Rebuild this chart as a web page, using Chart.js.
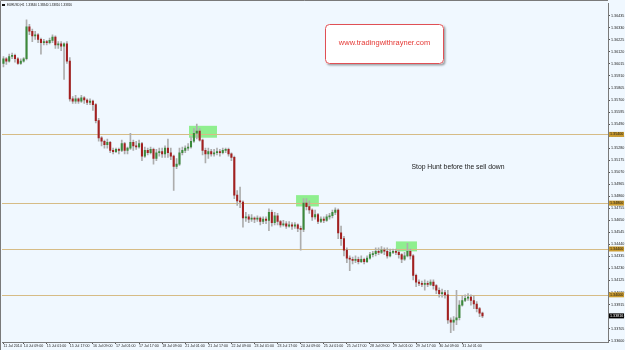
<!DOCTYPE html>
<html lang="en">
<head>
<meta charset="UTF-8">
<title>EURUSD,H1</title>
<script src="https://cdn.jsdelivr.net/npm/chart.js"></script>
<style>
  html, body { margin: 0; padding: 0; background: #f0f8ff; }
  #caixa { width: 625px; height: 350px; }
</style>
</head>
<body>
<div id="caixa"><canvas id="grafico" width="625" height="350"></canvas></div>
<script>
// EURUSD candles, 2 hours each, 11 Jul 18:00 -> 31 Jul 2014
const open = [1.3602,1.3606,1.3604,1.3608,1.3609,1.3606,1.3602,1.3604,1.3606,1.3634,
  1.3630,1.3626,1.3627,1.3623,1.3620,1.3621,1.3620,1.3622,1.3625,1.3618,
  1.3619,1.3617,1.3619,1.3604,1.3571,1.3569,1.3571,1.3569,1.3572,1.3570,
  1.3568,1.3569,1.3566,1.3552,1.3537,1.3534,1.3531,1.3533,1.3526,1.3525,
  1.3527,1.3526,1.3532,1.3526,1.3528,1.3533,1.3530,1.3529,1.3532,1.3521,
  1.3526,1.3524,1.3527,1.3519,1.3524,1.3525,1.3523,1.3528,1.3524,1.3521,
  1.3512,1.3514,1.3524,1.3526,1.3528,1.3529,1.3534,1.3541,1.3543,1.3535,
  1.3526,1.3523,1.3525,1.3523,1.3524,1.3525,1.3524,1.3526,1.3527,1.3523,
  1.3520,1.3487,1.3482,1.3481,1.3467,1.3468,1.3466,1.3467,1.3466,1.3467,
  1.3464,1.3466,1.3465,1.3472,1.3463,1.3469,1.3464,1.3461,1.3462,1.3460,
  1.3461,1.3460,1.3461,1.3458,1.3457,1.3480,1.3477,1.3474,1.3468,1.3470,
  1.3464,1.3466,1.3465,1.3468,1.3469,1.3472,1.3474,1.3454,1.3449,1.3439,
  1.3432,1.3431,1.3430,1.3431,1.3429,1.3431,1.3429,1.3432,1.3435,1.3436,
  1.3438,1.3437,1.3439,1.3438,1.3434,1.3437,1.3438,1.3437,1.3435,1.3431,
  1.3434,1.3438,1.3434,1.3417,1.3411,1.3410,1.3409,1.3410,1.3409,1.3411,
  1.3408,1.3404,1.3401,1.3402,1.3400,1.3378,1.3376,1.3378,1.3380,1.3391,
  1.3395,1.3397,1.3398,1.3395,1.3392,1.3388,1.3384];
const high = [1.3608,1.3607,1.3610,1.3611,1.3610,1.3607,1.3606,1.3607,1.3640,1.3636,
  1.3632,1.3630,1.3628,1.3624,1.3623,1.3622,1.3624,1.3627,1.3626,1.3621,
  1.3621,1.3620,1.3621,1.3607,1.3573,1.3574,1.3572,1.3574,1.3573,1.3571,
  1.3571,1.3570,1.3567,1.3554,1.3538,1.3535,1.3536,1.3534,1.3528,1.3528,
  1.3528,1.3535,1.3533,1.3529,1.3541,1.3535,1.3534,1.3535,1.3533,1.3529,
  1.3528,1.3529,1.3528,1.3527,1.3528,1.3528,1.3530,1.3536,1.3528,1.3522,
  1.3519,1.3528,1.3529,1.3530,1.3532,1.3538,1.3545,1.3549,1.3545,1.3536,
  1.3528,1.3528,1.3527,1.3527,1.3528,1.3527,1.3528,1.3528,1.3528,1.3524,
  1.3521,1.3491,1.3494,1.3482,1.3472,1.3470,1.3470,1.3468,1.3469,1.3468,
  1.3468,1.3468,1.3475,1.3474,1.3472,1.3471,1.3465,1.3465,1.3464,1.3464,
  1.3463,1.3463,1.3462,1.3460,1.3484,1.3484,1.3482,1.3475,1.3474,1.3471,
  1.3468,1.3468,1.3470,1.3471,1.3474,1.3476,1.3475,1.3460,1.3451,1.3441,
  1.3434,1.3433,1.3434,1.3433,1.3434,1.3432,1.3434,1.3437,1.3438,1.3441,
  1.3441,1.3442,1.3441,1.3441,1.3440,1.3440,1.3440,1.3439,1.3436,1.3437,
  1.3445,1.3440,1.3435,1.3418,1.3413,1.3412,1.3413,1.3412,1.3413,1.3413,
  1.3409,1.3406,1.3405,1.3404,1.3404,1.3380,1.3381,1.3404,1.3395,1.3399,
  1.3400,1.3401,1.3400,1.3399,1.3394,1.3389,1.3385];
const low = [1.3599,1.3601,1.3603,1.3606,1.3603,1.3601,1.3601,1.3603,1.3605,1.3627,
  1.3621,1.3623,1.3620,1.3610,1.3618,1.3618,1.3619,1.3620,1.3615,1.3615,
  1.3613,1.3588,1.3602,1.3569,1.3567,1.3567,1.3567,1.3568,1.3567,1.3566,
  1.3566,1.3561,1.3550,1.3534,1.3530,1.3528,1.3528,1.3524,1.3523,1.3524,
  1.3523,1.3525,1.3523,1.3523,1.3527,1.3526,1.3527,1.3528,1.3517,1.3520,
  1.3522,1.3523,1.3514,1.3517,1.3521,1.3520,1.3520,1.3520,1.3518,1.3491,
  1.3510,1.3513,1.3522,1.3524,1.3526,1.3528,1.3533,1.3536,1.3534,1.3522,
  1.3515,1.3519,1.3521,1.3521,1.3522,1.3521,1.3523,1.3524,1.3521,1.3517,
  1.3484,1.3478,1.3476,1.3459,1.3464,1.3463,1.3464,1.3463,1.3464,1.3461,
  1.3462,1.3462,1.3456,1.3460,1.3461,1.3461,1.3459,1.3460,1.3458,1.3459,
  1.3457,1.3458,1.3455,1.3439,1.3455,1.3474,1.3471,1.3465,1.3466,1.3462,
  1.3463,1.3463,1.3464,1.3466,1.3467,1.3470,1.3449,1.3443,1.3434,1.3428,
  1.3421,1.3427,1.3428,1.3427,1.3428,1.3427,1.3428,1.3431,1.3433,1.3434,
  1.3435,1.3436,1.3435,1.3432,1.3433,1.3436,1.3435,1.3432,1.3428,1.3430,
  1.3433,1.3431,1.3413,1.3407,1.3408,1.3407,1.3404,1.3407,1.3408,1.3405,
  1.3401,1.3398,1.3398,1.3397,1.3375,1.3367,1.3369,1.3374,1.3378,1.3390,
  1.3394,1.3395,1.3391,1.3388,1.3385,1.3381,1.3380];
const close = [1.3606,1.3604,1.3608,1.3609,1.3606,1.3602,1.3604,1.3606,1.3634,1.3630,
  1.3626,1.3627,1.3623,1.3620,1.3621,1.3620,1.3622,1.3625,1.3618,1.3619,
  1.3617,1.3619,1.3604,1.3571,1.3569,1.3571,1.3569,1.3572,1.3570,1.3568,
  1.3569,1.3566,1.3552,1.3537,1.3534,1.3531,1.3533,1.3526,1.3525,1.3527,
  1.3526,1.3532,1.3526,1.3528,1.3533,1.3530,1.3529,1.3532,1.3521,1.3526,
  1.3524,1.3527,1.3519,1.3524,1.3525,1.3523,1.3528,1.3524,1.3521,1.3512,
  1.3514,1.3524,1.3526,1.3528,1.3529,1.3534,1.3541,1.3543,1.3535,1.3526,
  1.3523,1.3525,1.3523,1.3524,1.3525,1.3524,1.3526,1.3527,1.3523,1.3520,
  1.3487,1.3482,1.3481,1.3467,1.3468,1.3466,1.3467,1.3466,1.3467,1.3464,
  1.3466,1.3465,1.3472,1.3463,1.3469,1.3464,1.3461,1.3462,1.3460,1.3461,
  1.3460,1.3461,1.3458,1.3457,1.3480,1.3477,1.3474,1.3468,1.3470,1.3464,
  1.3466,1.3465,1.3468,1.3469,1.3472,1.3474,1.3454,1.3449,1.3439,1.3432,
  1.3431,1.3430,1.3431,1.3429,1.3431,1.3429,1.3432,1.3435,1.3436,1.3438,
  1.3437,1.3439,1.3438,1.3434,1.3437,1.3438,1.3437,1.3435,1.3431,1.3434,
  1.3438,1.3434,1.3417,1.3411,1.3410,1.3409,1.3410,1.3409,1.3411,1.3408,
  1.3404,1.3401,1.3402,1.3400,1.3378,1.3376,1.3378,1.3380,1.3391,1.3395,
  1.3397,1.3398,1.3395,1.3392,1.3388,1.3384,1.33816];

// price scale labels (right side)
const yTicks = [1.36435,1.36330,1.36225,1.36120,1.36015,1.35910,1.35805,1.35700,1.35595,1.35490,
  1.35385,1.35280,1.35175,1.35070,1.34965,1.34860,1.34755,1.34650,1.34545,1.34440,
  1.34335,1.34230,1.34125,1.34020,1.33915,1.33810,1.33705,1.33600];
// time scale labels and the candle they sit on
const xTickAt = [0,7,15,23,31,39,47,55,63,71,79,87,95,103,111,119,127,135,143,151,159];
const xTickText = ['11 Jul 2014','14 Jul 09:00','15 Jul 01:00','15 Jul 17:00','16 Jul 09:00',
  '17 Jul 01:00','17 Jul 17:00','18 Jul 09:00','21 Jul 01:00','21 Jul 17:00','22 Jul 09:00',
  '23 Jul 01:00','23 Jul 17:00','24 Jul 09:00','25 Jul 01:00','25 Jul 17:00','28 Jul 09:00',
  '29 Jul 01:00','29 Jul 17:00','30 Jul 09:00','31 Jul 01:00'];

// horizontal levels
const levels = [1.3540, 1.3480, 1.3440, 1.3400];
const lastPrice = 1.33816;
// stop hunt zones (candle index range, price range)
const zoneFrom = [64.3, 101.4, 136.0];
const zoneTo = [74.0, 109.3, 143.3];
const zoneHigh = [1.35475, 1.34870, 1.34466];
const zoneLow = [1.35371, 1.34771, 1.34379];

const slots = 210; // room on the right like MT4 chart shift
const fonte = "'Liberation Sans', Arial, sans-serif";

const decor = {
    id: 'decor',
    beforeDraw(chart) {
        const c = chart.ctx;
        c.save();
        c.fillStyle = '#f0f8ff';
        c.fillRect(0, 0, chart.width, chart.height);
        c.restore();
    },
    beforeDatasetsDraw(chart) {
        const c = chart.ctx, a = chart.chartArea;
        const x = chart.scales.x, y = chart.scales.y;
        c.save();
        c.fillStyle = '#8fef8f';
        for (let i = 0; i < zoneFrom.length; i++) {
            const x1 = x.getPixelForValue(zoneFrom[i]), x2 = x.getPixelForValue(zoneTo[i]);
            const y1 = y.getPixelForValue(zoneHigh[i]), y2 = y.getPixelForValue(zoneLow[i]);
            c.fillRect(x1, y1, x2 - x1, y2 - y1);
        }
        c.strokeStyle = '#d6bc86';
        c.lineWidth = 1;
        levels.forEach(v => {
            const py = Math.round(y.getPixelForValue(v)) + 0.5;
            c.beginPath();
            c.moveTo(a.left, py);
            c.lineTo(a.right, py);
            c.stroke();
        });
        c.restore();
    },
    afterDraw(chart) {
        const c = chart.ctx, a = chart.chartArea, y = chart.scales.y;
        c.save();
        // frame
        c.strokeStyle = '#7a7a7a';
        c.lineWidth = 1;
        c.beginPath();
        c.moveTo(0.5, 350); c.lineTo(0.5, 0.5); c.lineTo(a.right, 0.5);
        c.stroke();

        // labels of the levels on the price scale
        c.font = '3.7px ' + fonte;
        c.textBaseline = 'middle';
        c.textAlign = 'left';
        levels.forEach(v => {
            const py = y.getPixelForValue(v);
            c.fillStyle = '#c99a2e';
            c.fillRect(a.right + 1, py - 2.5, 15, 5);
            c.fillStyle = '#1a1a1a';
            c.fillText(v.toFixed(5), a.right + 2, py);
        });
        const pl = y.getPixelForValue(lastPrice);
        c.fillStyle = '#000';
        c.fillRect(a.right + 1, pl - 2.5, 15, 5);
        c.fillStyle = '#fff';
        c.fillText(lastPrice.toFixed(5), a.right + 2, pl);

        // header
        c.fillStyle = '#111';
        c.fillRect(2, 4, 3, 2);
        c.font = '3px ' + fonte;
        c.fillText('EURUSD,H1  1.33840 1.33840 1.33810 1.33816', 7, 5);

        // site box
        const bx = 325, by = 24, bw = 119, bh = 40;
        c.shadowColor = 'rgba(0,0,0,0.35)';
        c.shadowBlur = 2;
        c.shadowOffsetX = 1.5;
        c.shadowOffsetY = 1.5;
        c.fillStyle = '#ffffff';
        c.beginPath();
        c.roundRect(bx, by, bw, bh, 4);
        c.fill();
        c.shadowColor = 'transparent';
        c.strokeStyle = '#e05055';
        c.lineWidth = 1;
        c.beginPath();
        c.roundRect(bx + 0.5, by + 0.5, bw - 1, bh - 1, 4);
        c.stroke();
        c.fillStyle = '#e53935';
        c.font = '7.5px ' + fonte;
        c.textAlign = 'center';
        c.fillText('www.tradingwithrayner.com', bx + bw / 2, 43);

        // note
        c.fillStyle = '#1a1a1a';
        c.font = '6.8px ' + fonte;
        c.textAlign = 'left';
        c.fillText('Stop Hunt before the sell down', 411.5, 167);
        c.restore();
    }
};

new Chart(document.getElementById('grafico'), {
    type: 'bar',
    data: {
        labels: Array.from({length: slots}, (_, i) => i),
        datasets: [
            {
                label: 'wick',
                data: low.map((v, i) => [v, high[i]]),
                backgroundColor: '#adadad',
                barThickness: 1,
                grouped: false,
                order: 2
            },
            {
                label: 'body',
                data: open.map((v, i) => [v, close[i]]),
                backgroundColor: open.map((v, i) => close[i] >= v ? '#3b8a3b' : '#a32020'),
                barThickness: 1.4,
                minBarLength: 1,
                grouped: false,
                order: 1
            }
        ]
    },
    options: {
        responsive: false,
        animation: false,
        devicePixelRatio: 1,
        layout: { padding: { left: 2, top: 2, right: 0, bottom: 0 } },
        plugins: { legend: { display: false }, tooltip: { enabled: false } },
        scales: {
            x: {
                type: 'category',
                offset: true,
                grid: {
                    drawOnChartArea: false,
                    offset: false,
                    tickLength: 2,
                    color: ctx => xTickAt.includes(ctx.index) ? '#555' : 'rgba(0,0,0,0)'
                },
                border: { color: '#7a7a7a' },
                ticks: {
                    autoSkip: false,
                    maxRotation: 0,
                    align: 'start',
                    padding: 0,
                    color: '#222',
                    font: { size: 3.6, family: fonte },
                    callback: (v, i) => {
                        const j = xTickAt.indexOf(i);
                        return j >= 0 ? xTickText[j] : '';
                    }
                },
                afterFit: s => { s.height = 8; }
            },
            y: {
                type: 'linear',
                position: 'right',
                min: 1.33588,
                max: 1.36545,
                afterBuildTicks: s => { s.ticks = yTicks.map(v => ({ value: v })); },
                grid: { drawOnChartArea: false, tickLength: 2, color: '#555' },
                border: { color: '#7a7a7a' },
                ticks: {
                    padding: 1,
                    color: '#222',
                    font: { size: 3.7, family: fonte },
                    callback: v => v.toFixed(5)
                },
                afterFit: s => { s.width = 17; }
            }
        }
    },
    plugins: [decor]
});
</script>
</body>
</html>
